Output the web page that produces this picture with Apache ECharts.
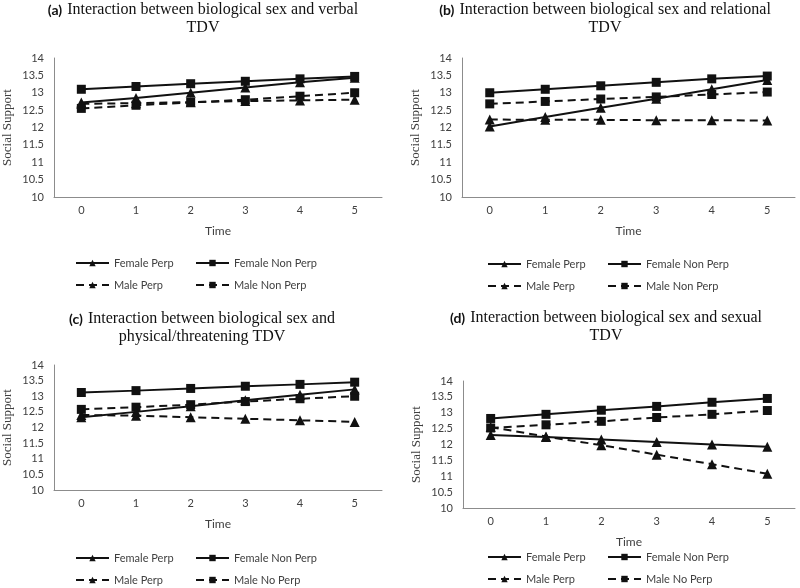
<!DOCTYPE html>
<html>
<head>
<meta charset="utf-8">
<script src="https://cdn.jsdelivr.net/npm/echarts@6/dist/echarts.min.js"></script>
<style>html,body{margin:0;padding:0;background:#fff;}#main{width:800px;height:588px;}</style>
</head>
<body>
<div id="main"></div>
<script>
const timePoints = ['0', '1', '2', '3', '4', '5'];
const yTicks = [10, 10.5, 11, 11.5, 12, 12.5, 13, 13.5, 14];

const panelTitles = [
  ['(a)', 'Interaction between biological sex and verbal', 'TDV'],
  ['(b)', 'Interaction between biological sex and relational', 'TDV'],
  ['(c)', 'Interaction between biological sex and', 'physical/threatening TDV'],
  ['(d)', 'Interaction between biological sex and sexual', 'TDV']
];
const seriesNamesAB = ['Female Perp', 'Female Non Perp', 'Male Perp', 'Male Non Perp'];
const seriesNamesC = ['Female Perp', 'Female Non Perp', 'Male Perp', 'Male No Perp'];
const seriesNamesD = ['Female Perp', 'Female Non Perp', 'Male Perp', 'Male No Perp'];

// (a) verbal
const aFemalePerp    = [12.72, 12.85, 13.00, 13.15, 13.30, 13.43];
const aFemaleNonPerp = [13.10, 13.18, 13.26, 13.33, 13.40, 13.47];
const aMalePerp      = [12.68, 12.70, 12.73, 12.76, 12.78, 12.80];
const aMaleNonPerp   = [12.55, 12.64, 12.72, 12.80, 12.90, 13.00];
// (b) relational
const bFemalePerp    = [12.03, 12.30, 12.57, 12.83, 13.10, 13.37];
const bFemaleNonPerp = [13.00, 13.10, 13.20, 13.30, 13.40, 13.48];
const bMalePerp      = [12.23, 12.22, 12.22, 12.21, 12.21, 12.20];
const bMaleNonPerp   = [12.68, 12.75, 12.82, 12.88, 12.95, 13.02];
// (c) physical/threatening
const cFemalePerp    = [12.33, 12.50, 12.68, 12.87, 13.05, 13.22];
const cFemaleNonPerp = [13.12, 13.18, 13.25, 13.32, 13.38, 13.45];
const cMalePerp      = [12.40, 12.38, 12.33, 12.28, 12.23, 12.18];
const cMaleNoPerp    = [12.58, 12.65, 12.73, 12.83, 12.92, 13.00];
// (d) sexual
const dFemalePerp    = [12.30, 12.24, 12.16, 12.08, 12.00, 11.93];
const dFemaleNonPerp = [12.82, 12.95, 13.08, 13.20, 13.33, 13.45];
const dMalePerp      = [12.55, 12.25, 11.98, 11.68, 11.38, 11.08];
const dMaleNoPerp    = [12.52, 12.62, 12.73, 12.85, 12.95, 13.07];

const panelData = [
  [aFemalePerp, aFemaleNonPerp, aMalePerp, aMaleNonPerp],
  [bFemalePerp, bFemaleNonPerp, bMalePerp, bMaleNonPerp],
  [cFemalePerp, cFemaleNonPerp, cMalePerp, cMaleNoPerp],
  [dFemalePerp, dFemaleNonPerp, dMalePerp, dMaleNoPerp]
];
const panelNames = [seriesNamesAB, seriesNamesAB, seriesNamesC, seriesNamesD];

// layout
const grids = [
  {left: 50, top: 58, width: 332, height: 139},
  {left: 462, top: 58, width: 333, height: 139},
  {left: 50, top: 365, width: 332, height: 125},
  {left: 463, top: 381, width: 332, height: 127}
];
const titlePos = [
  {x: 203, y: 1},
  {x: 605, y: 1},
  {x: 202, y: 310},
  {x: 606, y: 309}
];
const legendPos = [
  {c1: 75, c2: 195, top: 256},
  {c1: 487, c2: 607, top: 257},
  {c1: 75, c2: 195, top: 551},
  {c1: 487, c2: 607, top: 550}
];

const ink = '#111';
const textGray = '#404040';
const sans = 'Lato, "Liberation Sans", sans-serif';
const serif = '"Liberation Serif", "DejaVu Serif", serif';

const option = {
  backgroundColor: '#fff',
  animation: false,
  title: [], grid: [], xAxis: [], yAxis: [], series: [], legend: []
};

for (let p = 0; p < 4; p++) {
  const t = panelTitles[p];
  option.title.push({
    left: titlePos[p].x, top: titlePos[p].y, textAlign: 'center', padding: 0,
    text: '{b|' + t[0] + '} {r|' + t[1] + '}\n{r|' + t[2] + '}',
    textStyle: {
      fontWeight: 'normal',
      rich: {
        b: {fontFamily: sans, fontWeight: 'bold', fontSize: 14, color: '#111', lineHeight: 17},
        r: {fontFamily: serif, fontWeight: 'normal', fontSize: 16, color: '#111', lineHeight: 17}
      }
    }
  });
  option.grid.push(Object.assign({containLabel: false}, grids[p]));
  option.xAxis.push({
    type: 'category', gridIndex: p, data: timePoints, boundaryGap: true,
    name: 'Time', nameLocation: 'middle', nameGap: 28,
    nameTextStyle: {fontFamily: sans, fontSize: 12, color: textGray},
    axisLine: {lineStyle: {color: '#8c8c8c', width: 1}},
    axisTick: {show: false},
    axisLabel: {fontFamily: sans, fontSize: 11, color: textGray, margin: 8},
    splitLine: {show: false}
  });
  option.yAxis.push({
    type: 'value', gridIndex: p, min: 10, max: 14, interval: 0.5,
    name: 'Social Support', nameLocation: 'middle', nameRotate: 90, nameGap: 40,
    nameTextStyle: {fontFamily: serif, fontSize: 13, color: textGray},
    axisLine: {show: true, lineStyle: {color: '#8c8c8c', width: 1}},
    axisTick: {show: false},
    axisLabel: {fontFamily: sans, fontSize: 11, color: textGray, margin: 10},
    splitLine: {show: false}
  });
  const names = panelNames[p];
  const data = panelData[p];
  const styles = [
    {symbol: 'triangle', size: 10, dash: 'solid'},
    {symbol: 'rect', size: 9, dash: 'solid'},
    {symbol: 'triangle', size: 10, dash: [8, 5]},
    {symbol: 'rect', size: 9, dash: [8, 5]}
  ];
  for (let s = 0; s < 4; s++) {
    option.series.push({
      type: 'line', name: names[s], xAxisIndex: p, yAxisIndex: p,
      data: data[s], symbol: styles[s].symbol, symbolSize: styles[s].size,
      lineStyle: {color: ink, width: 2, type: styles[s].dash},
      itemStyle: {color: ink},
      z: s < 2 ? 3 : 2
    });
  }
  const lg = {
    orient: 'vertical', itemWidth: 33, itemHeight: 8, itemGap: 8, padding: 0,
    height: 60,
    textStyle: {fontFamily: sans, fontSize: 11, color: textGray, lineHeight: 14},
    selectedMode: false
  };
  option.legend.push(Object.assign({}, lg, {left: legendPos[p].c1, top: legendPos[p].top, data: [names[0], names[2]]}));
  option.legend.push(Object.assign({}, lg, {left: legendPos[p].c2, top: legendPos[p].top, data: [names[1], names[3]]}));
}

const chart = echarts.init(document.getElementById('main'), null, {renderer: 'canvas'});
chart.setOption(option);
</script>
</body>
</html>
